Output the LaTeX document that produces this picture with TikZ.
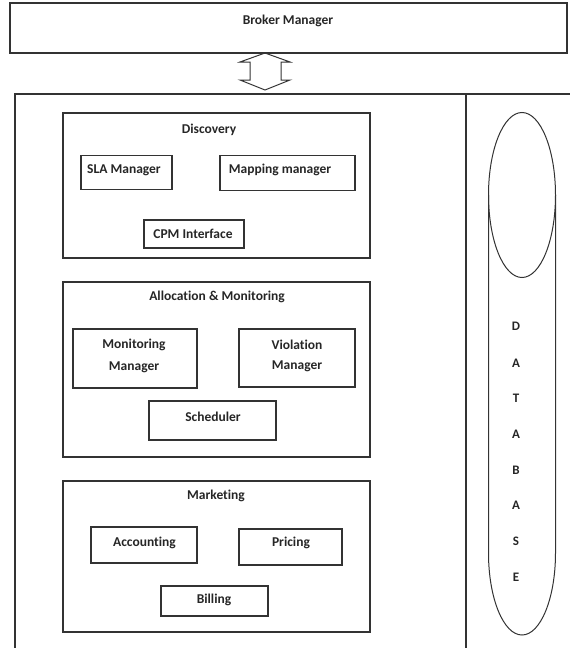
\documentclass[tikz,border=0pt]{standalone}
\usepackage{fontspec}
\setmainfont{Carlito}[Ligatures=NoCommon]
\begin{document}
\begin{tikzpicture}[x=1pt,y=-1pt]
\tikzset{
  frame/.style={draw=black!80, line width=1.1pt},
  boxnode/.style={frame, rectangle, inner sep=0pt},
  lbl/.style={font=\bfseries\fontsize{13.5}{16}\selectfont, text=black!85, inner sep=0pt, align=center},
  dbl/.style={font=\bfseries\fontsize{13}{15}\selectfont, text=black!85, inner sep=0pt}
}
\useasboundingbox (0,0) rectangle (570,648);
% broker manager
\node[boxnode, minimum width=557pt, minimum height=50pt] (broker) at (288.5,28) {};
\node[lbl] (brokert) at (288,21) {Broker Manager};
% double arrow
\draw[frame, line width=1pt] (265,53) -- (290,62) -- (281,62) -- (281,80) -- (290,80) -- (265,90)
  -- (240,80) -- (250,80) -- (250,62) -- (240,62) -- cycle;
% main frame
\draw[frame] (15,648) -- (15,94) -- (570,94);
\draw[frame] (466,94) -- (466,648);
% Discovery
\node[boxnode, minimum width=307pt, minimum height=145pt] (disc) at (216.5,185.5) {};
\node[lbl] (disct) at (209,130) {Discovery};
\node[boxnode, minimum width=91pt, minimum height=34pt] (sla) at (126.5,172.5) {};
\node[lbl] (slat) at (124,170) {SLA Manager};
\node[boxnode, minimum width=135pt, minimum height=35pt] (map) at (287.5,173) {};
\node[lbl] (mapt) at (280,170) {Mapping manager};
\node[boxnode, minimum width=100pt, minimum height=28pt] (cpm) at (194,234) {};
\node[lbl] (cpmt) at (193,234) {CPM Interface};
% Allocation & Monitoring
\node[boxnode, minimum width=307pt, minimum height=175pt] (alloc) at (216.5,369.5) {};
\node[lbl] (alloct) at (217,297) {Allocation \& Monitoring};
\node[boxnode, minimum width=124pt, minimum height=59pt] (mon) at (135,358.5) {};
\node[lbl] (mont1) at (134,345) {Monitoring};
\node[lbl] (mont2) at (134,367) {Manager};
\node[boxnode, minimum width=116pt, minimum height=58pt] (vio) at (297,358) {};
\node[lbl] (viot1) at (297,345) {Violation};
\node[lbl] (viot2) at (297,366) {Manager};
\node[boxnode, minimum width=127pt, minimum height=39pt] (sched) at (212.5,420.5) {};
\node[lbl] (schedt) at (213,417) {Scheduler};
% Marketing
\node[boxnode, minimum width=307pt, minimum height=151pt] (mkt) at (216.5,556.5) {};
\node[lbl] (mktt) at (216,496) {Marketing};
\node[boxnode, minimum width=106pt, minimum height=36pt] (acc) at (144,545) {};
\node[lbl] (acct) at (144.5,543) {Accounting};
\node[boxnode, minimum width=103pt, minimum height=36pt] (pri) at (290.5,547) {};
\node[lbl] (prit) at (291,543) {Pricing};
\node[boxnode, minimum width=107pt, minimum height=30pt] (bil) at (214.5,601) {};
\node[lbl] (bilt) at (214,600) {Billing};
% database
\draw[frame, line width=1pt] (522,195) ellipse [x radius=33.5, y radius=82.5];
\draw[frame, line width=1pt] (488.5,195) -- (488.5,553) arc[start angle=180, end angle=0, x radius=33.5, y radius=82] -- (555.5,195);
\foreach \ch/\yy/\nm in {D/326/d1, A/363/d2, T/398/d3, A/434/d4, B/470/d5, A/505/d6, S/541/d7, E/577/d8}
  \node[dbl] (\nm) at (516,\yy) {\ch};
\end{tikzpicture}
\end{document}
